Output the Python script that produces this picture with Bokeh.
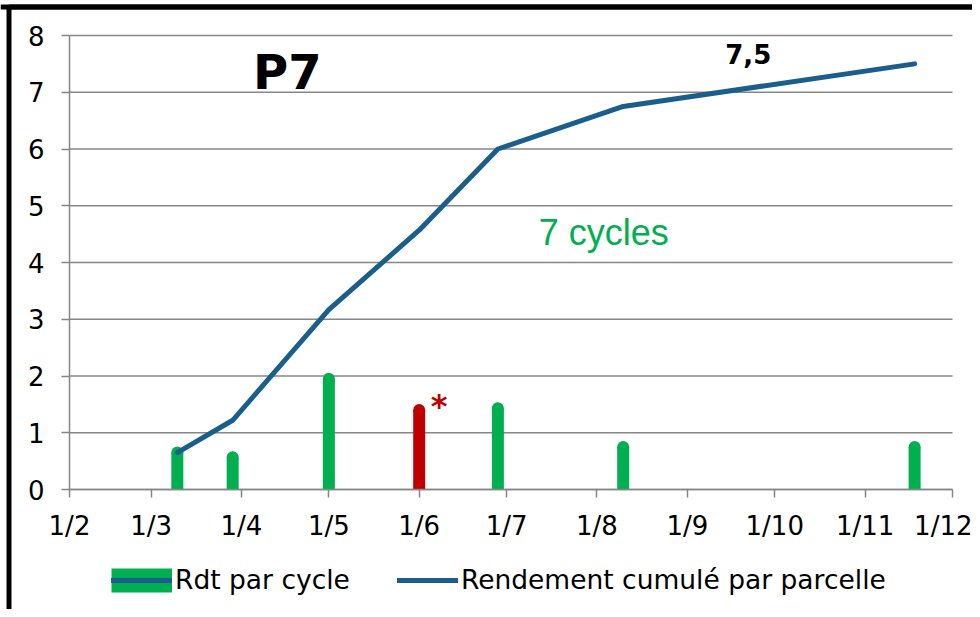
from datetime import datetime, timezone

from bokeh.plotting import figure
from bokeh.models import (Range1d, FixedTicker, Legend, LegendItem, Label,
                          ColumnDataSource, BoxAnnotation, Span)
from bokeh.embed import file_html
from bokeh.resources import INLINE

# ---------------- data ----------------
harvest_dates = ["2013-03-10", "2013-03-29", "2013-05-01", "2013-06-01",
                 "2013-06-28", "2013-08-10", "2013-11-18"]
yield_per_cycle = [0.65, 0.57, 1.95, 1.40, 1.43, 0.75, 0.75]
cumulative_yield = [0.65, 1.22, 3.17, 4.57, 6.00, 6.75, 7.50]
bar_colors = ["#00B050", "#00B050", "#00B050", "#C00000",
              "#00B050", "#00B050", "#00B050"]

tick_dates = ["2013-02-01", "2013-03-01", "2013-04-01", "2013-05-01",
              "2013-06-01", "2013-07-01", "2013-08-01", "2013-09-01",
              "2013-10-01", "2013-11-01", "2013-12-01"]
tick_labels = ["1/2", "1/3", "1/4", "1/5", "1/6", "1/7", "1/8", "1/9",
               "1/10", "1/11", "1/12"]
y_ticks = [0, 1, 2, 3, 4, 5, 6, 7, 8]

series_names = ["Rdt par cycle", "Rendement cumulé par parcelle"]


def ms(s):
    return datetime.strptime(s, "%Y-%m-%d").replace(tzinfo=timezone.utc).timestamp() * 1000.0


x_vals = [ms(d) for d in harvest_dates]
x_ticks = [ms(d) for d in tick_dates]
x_lo, x_hi = x_ticks[0], x_ticks[-1]
y_lo, y_hi = y_ticks[0], y_ticks[-1]

src = ColumnDataSource(dict(x=x_vals, v=yield_per_cycle,
                            cum=cumulative_yield, color=bar_colors))
grid_src = ColumnDataSource(dict(y=y_ticks, x0=[x_lo] * len(y_ticks),
                                 x1=[x_hi] * len(y_ticks)))

GRAY = "#868686"
GREEN = "#00B050"
RED = "#C00000"
BLUE = "#1A5E8B"

# ---------------- layout (pixels) ----------------
W, H = 972, 609
PL, PR, PT, PB = 69, 952, 35, 489          # plotting area edges on the canvas
mpp = (x_hi - x_lo) / (PR - PL)             # ms per pixel
upp = (y_hi - y_lo) / (PB - PT)             # y units per pixel

# the frame covers the whole canvas; axes are pinned at the data origin
p = figure(width=W, height=H, output_backend="svg", toolbar_location=None,
           x_axis_type="datetime",
           x_range=Range1d(x_lo - PL * mpp, x_hi + (W - PR) * mpp),
           y_range=Range1d(y_lo - (H - PB) * upp, y_hi + PT * upp),
           min_border_left=0, min_border_right=0, min_border_top=0,
           min_border_bottom=0)
p.outline_line_color = None
p.background_fill_color = "white"
p.border_fill_color = "white"
p.xgrid.visible = False
p.ygrid.visible = False

# horizontal gridlines, limited to the plotting area
p.segment(x0="x0", y0="y", x1="x1", y1="y", line_color=GRAY, line_width=1.5,
          source=grid_src)

# bars with rounded tops
p.vbar(x="x", bottom=0, top="v", width=12 * mpp, fill_color="color",
       line_color=None, source=src)
p.scatter(x="x", y="v", marker="circle", size=12, fill_color="color",
          line_color=None, source=src)

# cumulative line
line_r = p.line(x="x", y="cum", line_color=BLUE, line_width=5, line_join="round",
                line_cap="round", source=src)

# legend swatch for the bar series: zero-length segments (invisible in the plot),
# drawn in the legend as a thick green band
proxy = p.segment(x0="x", y0="v", x1="x", y1="v", line_color=GREEN,
                  line_width=24, line_cap="butt", source=src)

# axes
for ax in (p.xaxis[0], p.yaxis[0]):
    ax.axis_line_color = GRAY
    ax.axis_line_width = 1.5
    ax.major_tick_line_color = GRAY
    ax.major_tick_line_width = 1.5
    ax.major_tick_out = 8
    ax.major_tick_in = 0
    ax.minor_tick_out = 0
    ax.minor_tick_in = 0
    ax.major_label_text_font = "DejaVu Sans"
    ax.major_label_text_font_size = "26px"
    ax.major_label_text_color = "black"

p.xaxis.fixed_location = 0
p.xaxis.bounds = (x_lo, x_hi)
p.xaxis.ticker = FixedTicker(ticks=x_ticks)
p.xaxis.major_label_overrides = {t: lab for t, lab in zip(x_ticks, tick_labels)}
p.xaxis.major_label_standoff = 13

p.yaxis.fixed_location = x_lo
p.yaxis.bounds = (y_lo, y_hi)
p.yaxis.ticker = FixedTicker(ticks=y_ticks)
p.yaxis.major_label_standoff = 17

# annotations
p.add_layout(Label(x=ms("2013-04-05"), y=7.35, text="P7", text_font="DejaVu Sans",
                   text_font_style="bold", text_font_size="48px",
                   text_baseline="alphabetic", text_color="black"))
p.add_layout(Label(x=ms("2013-07-12"), y=4.52, text="7 cycles",
                   text_font="Liberation Sans", text_font_size="36px",
                   text_baseline="alphabetic", text_color=GREEN))
p.add_layout(Label(x=ms("2013-09-14"), y=7.68, text="7,5", text_font="DejaVu Sans",
                   text_font_style="bold", text_font_size="26px",
                   text_baseline="alphabetic", text_color="black"))
p.add_layout(Label(x=ms("2013-06-05"), y=1.47, text="*", text_font="DejaVu Sans",
                   text_font_style="bold", text_font_size="32px",
                   text_baseline="alphabetic", text_color=RED))

legend = Legend(items=[LegendItem(label=series_names[0], renderers=[proxy, line_r]),
                       LegendItem(label=series_names[1], renderers=[line_r])],
                orientation="horizontal", location=(111, 14),
                glyph_width=61, glyph_height=30, label_height=30,
                label_standoff=3, spacing=47,
                padding=0, margin=0, label_text_font="DejaVu Sans",
                label_text_font_size="26.5px", label_text_color="black",
                background_fill_alpha=0, border_line_alpha=0)
p.add_layout(legend)

# black frame of the screenshot (its left and top edges are visible);
# pixel positions converted to data units through the known frame mapping
p.add_layout(BoxAnnotation(left=x_lo - (PL - 8.5) * mpp, right=x_hi + (W + 20 - PR) * mpp,
                           top=y_hi + (PT - 6.5) * upp, bottom=y_lo - (H + 20 - PB) * upp,
                           fill_alpha=0, line_color="black", line_width=5,
                           line_alpha=1.0))
p.add_layout(Span(location=y_hi + (PT - 6.5) * upp, dimension="width",
                  line_color="black", line_width=5))

open("out.html", "w").write(file_html(p, INLINE))
